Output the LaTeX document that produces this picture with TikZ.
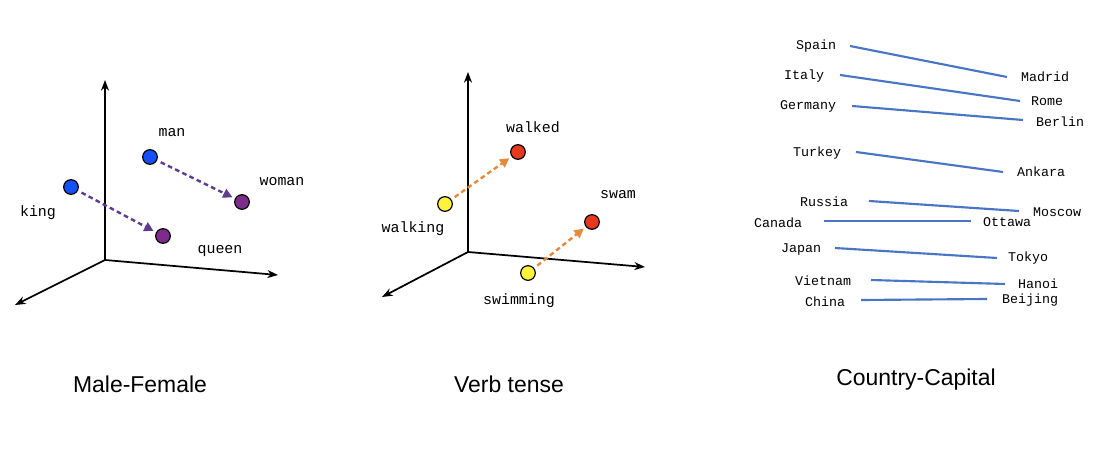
\documentclass[tikz,border=0pt]{standalone}
\usepackage{fontspec}
\setmainfont{Liberation Sans}
\newfontfamily\monofont{Liberation Mono}
\usetikzlibrary{arrows.meta}
\definecolor{dotblue}{HTML}{1450F5}
\definecolor{dotpurple}{HTML}{7D2C8E}
\definecolor{arrpurple}{HTML}{5E3D8F}
\definecolor{dotyellow}{HTML}{FFF23A}
\definecolor{dotred}{HTML}{E8381E}
\definecolor{arrorange}{HTML}{E8893A}
\definecolor{lineblue}{HTML}{4A75C4}
\tikzset{
  axis/.style={line width=1.3pt, -{Stealth[length=8pt,width=6pt]}},
  dot/.style={circle, draw=black, line width=0.9pt, minimum size=11pt, inner sep=0pt},
  wlabel/.style={font=\monofont\fontsize{11.2}{13}\selectfont, inner sep=0pt},
  clabel/.style={font=\monofont\fontsize{10}{12}\selectfont, inner sep=0pt},
  title/.style={font=\fontsize{17.2}{20}\selectfont, inner sep=0pt},
  vecarrow/.style={line width=1.8pt, dash pattern=on 3.5pt off 2.5pt, -{Triangle[length=7pt,width=7pt]}, shorten <=3pt, shorten >=2pt},
  capline/.style={lineblue, line width=1.6pt}
}
\begin{document}
\begin{tikzpicture}[x=0.75pt,y=-0.75pt]
\useasboundingbox (0,0) rectangle (1108,474);
% ---------- Panel 1: Male-Female ----------
\coordinate (o1) at (105,260);
\coordinate (z1) at (105,80);
\coordinate (x1) at (278,275);
\coordinate (y1) at (15,305);
\draw[axis] (o1) -- (z1);
\draw[axis] (o1) -- (x1);
\draw[axis] (o1) -- (y1);
\node[dot, fill=dotblue] (king) at (71,187) {};
\node[dot, fill=dotblue] (man) at (150,157) {};
\node[dot, fill=dotpurple] (woman) at (242,202) {};
\node[dot, fill=dotpurple] (queen) at (163,236) {};
\draw[vecarrow, arrpurple] (man) -- (woman);
\draw[vecarrow, arrpurple] (king) -- (queen);
\node[wlabel] (lman) at (172,133) {man};
\node[wlabel] (lwoman) at (282,182) {woman};
\node[wlabel] (lking) at (38,213) {king};
\node[wlabel] (lqueen) at (220,251) {queen};
\node[title] (t1) at (140,384) {Male-Female};
% ---------- Panel 2: Verb tense ----------
\coordinate (o2) at (468,252);
\coordinate (z2) at (468,72);
\coordinate (x2) at (645,267);
\coordinate (y2) at (382,297);
\draw[axis] (o2) -- (z2);
\draw[axis] (o2) -- (x2);
\draw[axis] (o2) -- (y2);
\node[dot, fill=dotred] (walked) at (518,152) {};
\node[dot, fill=dotyellow] (walking) at (445,204) {};
\node[dot, fill=dotred] (swam) at (592,222) {};
\node[dot, fill=dotyellow] (swimming) at (528,273) {};
\draw[vecarrow, arrorange] (walking) -- (walked);
\draw[vecarrow, arrorange] (swimming) -- (swam);
\node[wlabel] (lwalked) at (533,127) {walked};
\node[wlabel] (lwalking) at (413,229) {walking};
\node[wlabel] (lswam) at (618,195) {swam};
\node[wlabel] (lswimming) at (519,301) {swimming};
\node[title] (t2) at (509,384) {Verb tense};
% ---------- Panel 3: Country-Capital ----------
\node[clabel] (spain) at (816,46) {Spain};
\node[clabel] (madrid) at (1045,77) {Madrid};
\node[clabel] (italy) at (804,76) {Italy};
\node[clabel] (rome) at (1047,101) {Rome};
\node[clabel] (germany) at (808,106) {Germany};
\node[clabel] (berlin) at (1060,122) {Berlin};
\node[clabel] (turkey) at (817,153) {Turkey};
\node[clabel] (ankara) at (1041,172) {Ankara};
\node[clabel] (russia) at (824,202) {Russia};
\node[clabel] (moscow) at (1057,212) {Moscow};
\node[clabel] (canada) at (778,223) {Canada};
\node[clabel] (ottawa) at (1007,222) {Ottawa};
\node[clabel] (japan) at (801,249) {Japan};
\node[clabel] (tokyo) at (1028,258) {Tokyo};
\node[clabel] (vietnam) at (823,281) {Vietnam};
\node[clabel] (hanoi) at (1038,284) {Hanoi};
\node[clabel] (china) at (825,302) {China};
\node[clabel] (beijing) at (1030,300) {Beijing};
\coordinate (sa) at (850,46);  \coordinate (sb) at (1007,77);
\coordinate (ia) at (840,75);  \coordinate (ib) at (1020,101);
\coordinate (ga) at (852,106); \coordinate (gb) at (1023,120);
\coordinate (ta) at (856,152); \coordinate (tb) at (1003,172);
\coordinate (ra) at (869,201); \coordinate (rb) at (1019,211);
\coordinate (ca) at (824,221); \coordinate (cb) at (971,221);
\coordinate (ja) at (835,248); \coordinate (jb) at (997,258);
\coordinate (va) at (871,280); \coordinate (vb) at (1005,284);
\coordinate (cha) at (861,300); \coordinate (chb) at (987,299);
\draw[capline] (sa) -- (sb);
\draw[capline] (ia) -- (ib);
\draw[capline] (ga) -- (gb);
\draw[capline] (ta) -- (tb);
\draw[capline] (ra) -- (rb);
\draw[capline] (ca) -- (cb);
\draw[capline] (ja) -- (jb);
\draw[capline] (va) -- (vb);
\draw[capline] (cha) -- (chb);
\node[title] (t3) at (916,380) {Country-Capital};
\end{tikzpicture}
\end{document}
